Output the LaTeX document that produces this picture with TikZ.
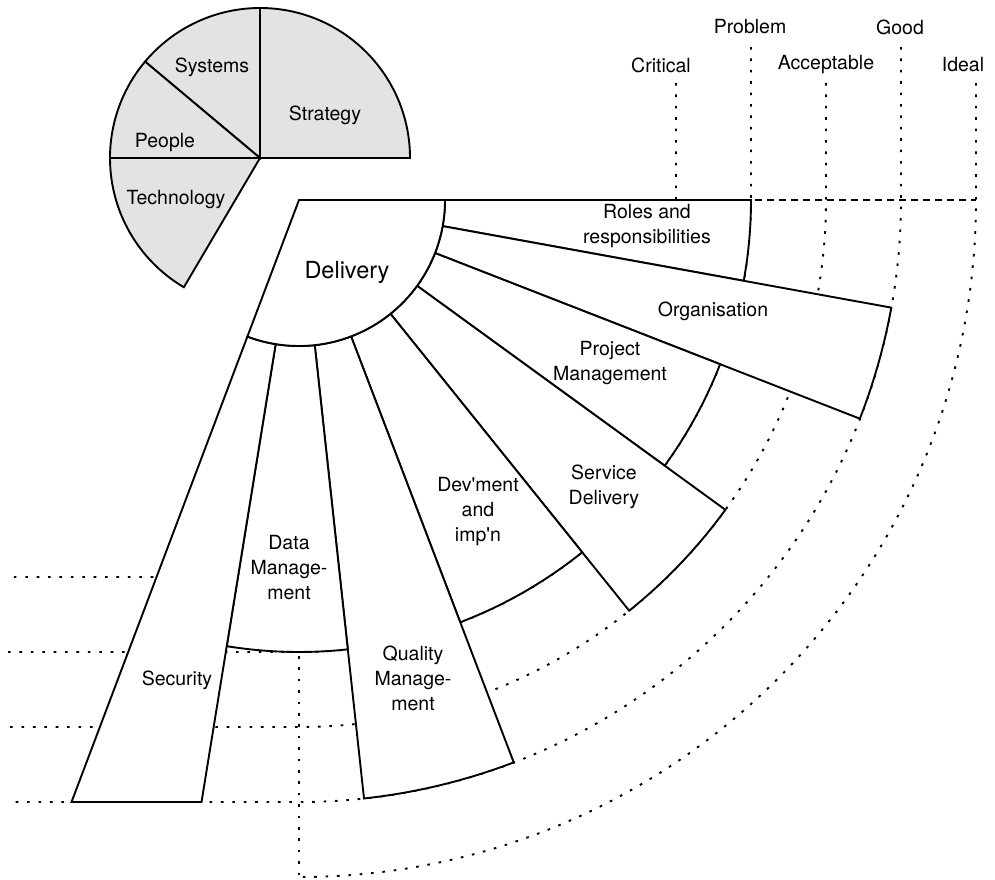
\documentclass[tikz,border=0pt]{standalone}
\usepackage{fontspec}
\setmainfont{TeX Gyre Heros}
\begin{document}
\begin{tikzpicture}[x=1pt,y=1pt,
  outline/.style={line width=1.9pt, line join=miter},
  sector/.style={outline, fill=white},
  piece/.style={outline, fill=black!11},
  scaleline/.style={line width=1.9pt, dash pattern=on 2.6pt off 8.8pt},
  axisline/.style={line width=1.6pt, dash pattern=on 7pt off 5pt},
  lbl/.style={font=\fontsize{19.5}{25}\selectfont, align=center, inner sep=0pt},
  biglbl/.style={font=\fontsize{23.5}{28}\selectfont, inner sep=0pt},
]
\useasboundingbox (-299,200) rectangle (696,-679);

% hub radius and the five level radii
\def\radHub{146}
\def\radCrit{377}\def\radProb{452}\def\radAcc{527}\def\radGood{602}\def\radIdeal{677}
% boundary angles between the sectors
\def\angB{-10.3}\def\angC{-21.3}\def\angD{-36}\def\angE{-51.2}
\def\angF{-69.1}\def\angG{-83.8}\def\angH{-99.2}\def\angI{-110.7}

% ---- level scale: axes, quarter arcs and left run-outs ----
\draw[axisline] (0,0) -- (\radIdeal,0);
\draw[scaleline] (0,0) -- (0,-\radIdeal);
\draw[scaleline] (\radCrit,117) -- (\radCrit,0)
  arc[start angle=0,end angle=-90,radius=\radCrit] -- (-291,-\radCrit);
\draw[scaleline] (\radProb,153) -- (\radProb,0)
  arc[start angle=0,end angle=-90,radius=\radProb] -- (-291,-\radProb);
\draw[scaleline] (\radAcc,117) -- (\radAcc,0)
  arc[start angle=0,end angle=-90,radius=\radAcc] -- (-291,-\radAcc);
\draw[scaleline] (\radGood,153) -- (\radGood,0)
  arc[start angle=0,end angle=-90,radius=\radGood] -- (-291,-\radGood);
\draw[scaleline] (\radIdeal,117) -- (\radIdeal,0)
  arc[start angle=0,end angle=-90,radius=\radIdeal];

\node[lbl] (critical)   at (362,135) {Critical};
\node[lbl] (problem)    at (451,173) {Problem};
\node[lbl] (acceptable) at (527,135) {Acceptable};
\node[lbl] (good)       at (601,173) {Good};
\node[lbl] (ideal)      at (664,135) {Ideal};

% ---- annular sectors around the hub ----
\newcommand\ringsector[3]{%
  \draw[sector] (#1:\radHub) -- (#1:#3)
    arc[start angle=#1,end angle=#2,radius=#3] -- (#2:\radHub)
    arc[start angle=#2,end angle=#1,radius=\radHub] -- cycle;}
\ringsector{0}{\angB}{\radProb}
\ringsector{\angB}{\angC}{\radGood}
\ringsector{\angC}{\angD}{\radProb}
\ringsector{\angD}{\angE}{\radAcc}
\ringsector{\angE}{\angF}{\radProb}
\ringsector{\angF}{\angG}{\radGood}
\ringsector{\angG}{\angH}{\radProb}
% the security sector ends on the straight level line
\draw[sector] (\angH:\radHub) -- ({\angH}:{-\radGood/sin(\angH)})
  -- ({\angI}:{-\radGood/sin(\angI)}) -- (\angI:\radHub)
  arc[start angle=\angI,end angle=\angH,radius=\radHub] -- cycle;

% hub
\draw[sector] (0,0) -- (\radHub,0)
  arc[start angle=0,end angle=\angI,radius=\radHub] -- cycle;

\node[biglbl] (delivery) at (48,-72) {Delivery};
\node[lbl] (roles)    at (348,-26)  {Roles and\\responsibilities};
\node[lbl] (organisation) at (414,-111) {Organisation};
\node[lbl] (project)  at (311,-163) {Project\\Management};
\node[lbl] (service)  at (305,-287) {Service\\Delivery};
\node[lbl] (devment)  at (179,-312) {Dev\textquotesingle ment\\and\\imp\textquotesingle n};
\node[lbl] (datamgmt) at (-10,-368) {Data\\Manage-\\ment};
\node[lbl] (quality)  at (114,-478) {Quality\\Manage-\\ment};
\node[lbl] (security) at (-122,-480) {Security};

% ---- pie of the other areas ----
\begin{scope}[shift={(-39,42)}]
  \draw[piece] (0,0) -- (90:150) arc[start angle=90,end angle=0,radius=150] -- cycle;
  \draw[piece] (0,0) -- (90:150) arc[start angle=90,end angle=140,radius=150] -- cycle;
  \draw[piece] (0,0) -- (140:150) arc[start angle=140,end angle=180,radius=150] -- cycle;
  \draw[piece] (0,0) -- (180:150) arc[start angle=180,end angle=239.5,radius=150] -- cycle;
\end{scope}
\node[lbl] (systems)    at (-87,133) {Systems};
\node[lbl] (strategy)   at (26,85)   {Strategy};
\node[lbl] (people)     at (-134,57) {People};
\node[lbl] (technology) at (-123,0)  {Technology};
\end{tikzpicture}
\end{document}
